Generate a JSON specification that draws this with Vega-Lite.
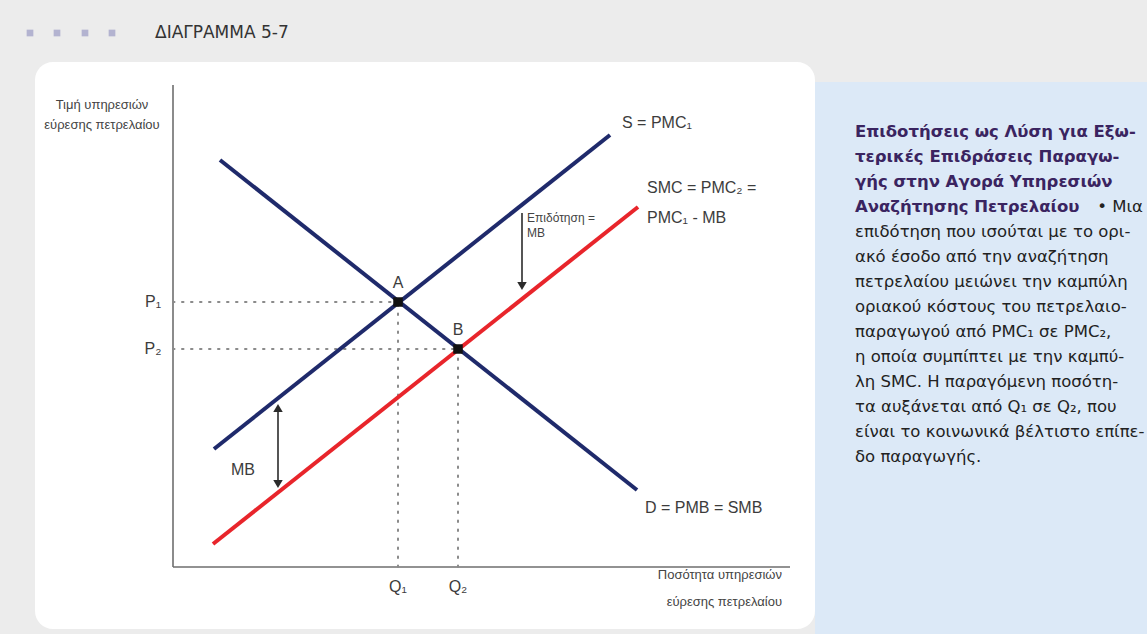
{
  "$schema": "https://vega.github.io/schema/vega-lite/v6.json",
  "width": 1147,
  "height": 634,
  "autosize": "none",
  "padding": 0,
  "background": "#ececec",
  "config": {"view": {"stroke": null}},
  "resolve": {"scale": {"color": "independent"}},
  "datasets": {
    "card": [
      {"name": "card", "q": -27.6, "q2": 128.4, "p": 101, "p2": -12.4}
    ],
    "note": [
      {"name": "note", "q": 128.4, "q2": 196, "p": 97, "p2": -14}
    ],
    "axes": [
      {"axis": "price", "q": 0, "p": 0, "q2": 0, "p2": 96.4},
      {"axis": "quantity", "q": 0, "p": 0, "q2": 123.4, "p2": 0}
    ],
    "guides": [
      {"guide": "P1", "q": 0, "p": 53, "q2": 45, "p2": 53},
      {"guide": "P2", "q": 0, "p": 43.6, "q2": 57, "p2": 43.6},
      {"guide": "Q1", "q": 45, "p": 0, "q2": 45, "p2": 53},
      {"guide": "Q2", "q": 57, "p": 0, "q2": 57, "p2": 43.6}
    ],
    "curves": [
      {"curve": "S = PMC1", "q": 8.2, "p": 23.6, "q2": 87.4, "p2": 86.4},
      {"curve": "D = PMB = SMB", "q": 9.4, "p": 81.4, "q2": 92.8, "p2": 15.4},
      {"curve": "SMC = PMC2", "q": 8, "p": 4.6, "q2": 93, "p2": 72}
    ],
    "arrowShafts": [
      {"arrow": "subsidy", "q": 69.8, "p": 70.8, "q2": 69.8, "p2": 57},
      {"arrow": "MB", "q": 21, "p": 31, "q2": 21, "p2": 17.4}
    ],
    "arrowDown": [
      {"arrow": "subsidy", "q": 69.8, "p": 56.2},
      {"arrow": "MB", "q": 21, "p": 16.6}
    ],
    "arrowUp": [
      {"arrow": "MB", "q": 21, "p": 31.8}
    ],
    "equilibria": [
      {"point": "A", "q": 45, "p": 53},
      {"point": "B", "q": 57, "p": 43.6}
    ],
    "curveLabels": [
      {"text": "S = PMC₁", "q": 89.8, "p": 88.8},
      {"text": "SMC = PMC₂ =", "q": 94.8, "p": 75.8},
      {"text": "PMC₁ - MB", "q": 94.8, "p": 69.8},
      {"text": "D = PMB = SMB", "q": 94.4, "p": 11.8}
    ],
    "smallLabels": [
      {"text": "Επιδότηση =", "q": 70.8, "p": 69.8},
      {"text": "MB", "q": 70.8, "p": 66.8}
    ],
    "centerLabels": [
      {"text": "MB", "q": 14, "p": 19.4},
      {"text": "A", "q": 45, "p": 56.8},
      {"text": "B", "q": 57, "p": 47.4},
      {"text": "P₁", "q": -4, "p": 53},
      {"text": "P₂", "q": -4, "p": 43.6},
      {"text": "Q₁", "q": 45, "p": -4},
      {"text": "Q₂", "q": 57, "p": -4}
    ],
    "yTitle": [
      {"text": "Τιμή υπηρεσιών", "q": -14.2, "p": 92.4},
      {"text": "εύρεσης πετρελαίου", "q": -14.2, "p": 88.4}
    ],
    "xTitle": [
      {"text": "Ποσότητα υπηρεσιών", "q": 121.8, "p": -1.6},
      {"text": "εύρεσης πετρελαίου", "q": 121.8, "p": -7}
    ],
    "heading": [
      {"text": "ΔΙΑΓΡΑΜΜΑ 5-7", "q": -3.6, "p": 106.8}
    ],
    "bullets": [
      {"b": 1, "q": -28.6, "p": 106.8},
      {"b": 2, "q": -23.2, "p": 106.8},
      {"b": 3, "q": -17.6, "p": 106.8},
      {"b": 4, "q": -12.2, "p": 106.8}
    ],
    "captionBold": [
      {"text": "Επιδοτήσεις ως Λύση για Εξω-", "q": 136.4, "p": 87},
      {"text": "τερικές Επιδράσεις Παραγω-", "q": 136.4, "p": 82},
      {"text": "γής στην Αγορά Υπηρεσιών", "q": 136.4, "p": 77},
      {"text": "Αναζήτησης Πετρελαίου", "q": 136.4, "p": 72}
    ],
    "captionEnd": [
      {"text": "• Μια", "q": 194, "p": 72}
    ],
    "captionBody": [
      {"text": "επιδότηση που ισούται με το ορι-", "q": 136.4, "p": 67},
      {"text": "ακό έσοδο από την αναζήτηση", "q": 136.4, "p": 62},
      {"text": "πετρελαίου μειώνει την καμπύλη", "q": 136.4, "p": 57},
      {"text": "οριακού κόστους του πετρελαιο-", "q": 136.4, "p": 52},
      {"text": "παραγωγού από PMC₁ σε PMC₂,", "q": 136.4, "p": 47},
      {"text": "η οποία συμπίπτει με την καμπύ-", "q": 136.4, "p": 42},
      {"text": "λη SMC. Η παραγόμενη ποσότη-", "q": 136.4, "p": 37},
      {"text": "τα αυξάνεται από Q₁ σε Q₂, που", "q": 136.4, "p": 32},
      {"text": "είναι το κοινωνικά βέλτιστο επίπε-", "q": 136.4, "p": 27},
      {"text": "δο παραγωγής.", "q": 136.4, "p": 22}
    ]
  },
  "encoding": {
    "x": {"field": "q", "type": "quantitative", "axis": null, "scale": {"domain": [-34.6, 194.8], "nice": false, "zero": false}},
    "y": {"field": "p", "type": "quantitative", "axis": null, "scale": {"domain": [-13.4, 113.4], "nice": false, "zero": false}}
  },
  "layer": [
    {
      "data": {"name": "note"},
      "mark": {"type": "rect", "color": "#dce9f7"},
      "encoding": {"x2": {"field": "q2"}, "y2": {"field": "p2"}}
    },
    {
      "data": {"name": "card"},
      "mark": {"type": "rect", "cornerRadius": 18, "color": "#ffffff"},
      "encoding": {"x2": {"field": "q2"}, "y2": {"field": "p2"}}
    },
    {
      "data": {"name": "axes"},
      "mark": {"type": "rule", "color": "#6e6e6e", "strokeWidth": 1.6},
      "encoding": {"x2": {"field": "q2"}, "y2": {"field": "p2"}}
    },
    {
      "data": {"name": "guides"},
      "mark": {"type": "rule", "color": "#8a8a8a", "strokeWidth": 2, "strokeDash": [1.5, 7.5], "strokeCap": "round"},
      "encoding": {"x2": {"field": "q2"}, "y2": {"field": "p2"}}
    },
    {
      "data": {"name": "curves"},
      "mark": {"type": "rule", "strokeWidth": 4, "strokeCap": "butt"},
      "encoding": {
        "x2": {"field": "q2"},
        "y2": {"field": "p2"},
        "color": {"field": "curve", "type": "nominal", "legend": null, "scale": {"domain": ["S = PMC1", "D = PMB = SMB", "SMC = PMC2"], "range": ["#1f2a6b", "#1f2a6b", "#e8252b"]}}
      }
    },
    {
      "data": {"name": "arrowShafts"},
      "mark": {"type": "rule", "color": "#2b2b2b", "strokeWidth": 1.6},
      "encoding": {"x2": {"field": "q2"}, "y2": {"field": "p2"}}
    },
    {
      "data": {"name": "arrowDown"},
      "mark": {"type": "point", "shape": "triangle-down", "filled": true, "color": "#2b2b2b", "size": 90, "opacity": 1},
      "encoding": {}
    },
    {
      "data": {"name": "arrowUp"},
      "mark": {"type": "point", "shape": "triangle-up", "filled": true, "color": "#2b2b2b", "size": 90, "opacity": 1},
      "encoding": {}
    },
    {
      "data": {"name": "equilibria"},
      "mark": {"type": "point", "shape": "square", "filled": true, "color": "#111111", "size": 90, "opacity": 1},
      "encoding": {}
    },
    {
      "data": {"name": "curveLabels"},
      "mark": {"type": "text", "align": "left", "baseline": "middle", "font": "Liberation Sans", "fontSize": 16, "color": "#3c3c3c"},
      "encoding": {"text": {"field": "text"}}
    },
    {
      "data": {"name": "smallLabels"},
      "mark": {"type": "text", "align": "left", "baseline": "middle", "font": "Liberation Sans", "fontSize": 12, "color": "#444444"},
      "encoding": {"text": {"field": "text"}}
    },
    {
      "data": {"name": "centerLabels"},
      "mark": {"type": "text", "align": "center", "baseline": "middle", "font": "Liberation Sans", "fontSize": 16, "color": "#3c3c3c"},
      "encoding": {"text": {"field": "text"}}
    },
    {
      "data": {"name": "yTitle"},
      "mark": {"type": "text", "align": "center", "baseline": "middle", "font": "Liberation Sans", "fontSize": 13, "color": "#444444"},
      "encoding": {"text": {"field": "text"}}
    },
    {
      "data": {"name": "xTitle"},
      "mark": {"type": "text", "align": "right", "baseline": "middle", "font": "Liberation Sans", "fontSize": 13, "color": "#444444"},
      "encoding": {"text": {"field": "text"}}
    },
    {
      "data": {"name": "heading"},
      "mark": {"type": "text", "align": "left", "baseline": "middle", "font": "DejaVu Sans", "fontSize": 17, "color": "#333333"},
      "encoding": {"text": {"field": "text"}}
    },
    {
      "data": {"name": "bullets"},
      "mark": {"type": "point", "shape": "square", "filled": true, "color": "#b3b3d0", "size": 45, "opacity": 1},
      "encoding": {}
    },
    {
      "data": {"name": "captionBold"},
      "mark": {"type": "text", "align": "left", "baseline": "middle", "font": "DejaVu Sans", "fontSize": 16.5, "fontWeight": "bold", "color": "#3a2460"},
      "encoding": {"text": {"field": "text"}}
    },
    {
      "data": {"name": "captionEnd"},
      "mark": {"type": "text", "align": "right", "baseline": "middle", "font": "DejaVu Sans", "fontSize": 16.5, "color": "#222222"},
      "encoding": {"text": {"field": "text"}}
    },
    {
      "data": {"name": "captionBody"},
      "mark": {"type": "text", "align": "left", "baseline": "middle", "font": "DejaVu Sans", "fontSize": 16.5, "color": "#222222"},
      "encoding": {"text": {"field": "text"}}
    }
  ]
}
